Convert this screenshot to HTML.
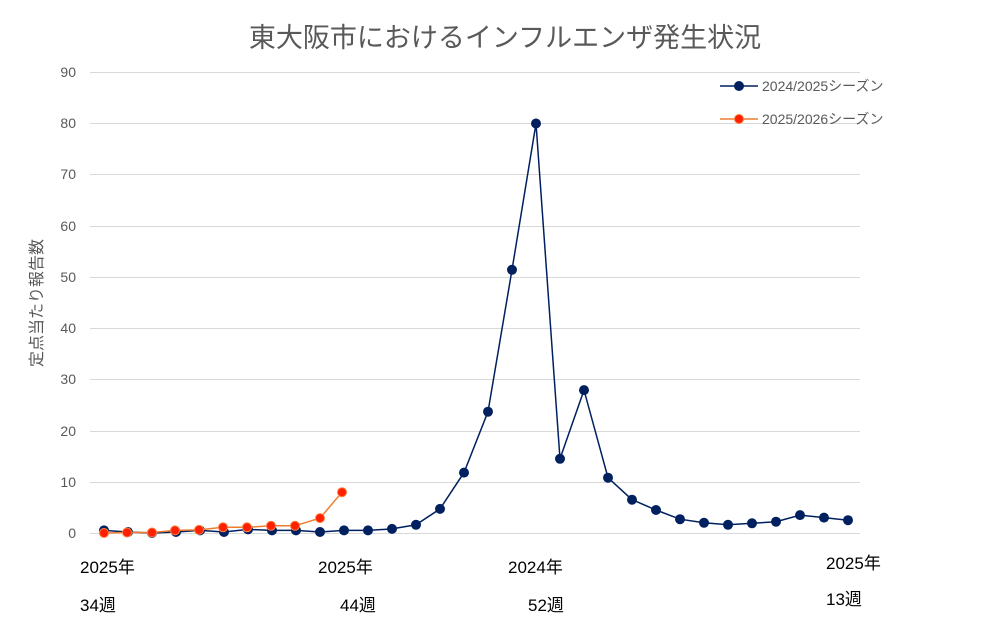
<!DOCTYPE html>
<html><head><meta charset="utf-8"><style>
html,body{margin:0;padding:0;background:#fff;}
text{font-family:"Liberation Sans","Noto Sans CJK JP",sans-serif;}
</style></head><body>
<svg width="1000" height="637" xmlns="http://www.w3.org/2000/svg">
<text x="505" y="47" text-anchor="middle" font-size="27" fill="#595959">東大阪市におけるインフルエンザ発生状況</text>
<g stroke="#d9d9d9" stroke-width="1">
<line x1="90" x2="860" y1="72.5" y2="72.5"/>
<line x1="90" x2="860" y1="123.5" y2="123.5"/>
<line x1="90" x2="860" y1="174.5" y2="174.5"/>
<line x1="90" x2="860" y1="226.5" y2="226.5"/>
<line x1="90" x2="860" y1="277.5" y2="277.5"/>
<line x1="90" x2="860" y1="328.5" y2="328.5"/>
<line x1="90" x2="860" y1="379.5" y2="379.5"/>
<line x1="90" x2="860" y1="431.5" y2="431.5"/>
<line x1="90" x2="860" y1="482.5" y2="482.5"/>
<line x1="90" x2="860" y1="533.5" y2="533.5"/>
</g>
<g font-size="14" fill="#595959" text-anchor="end">
<text x="76" y="77">90</text><text x="76" y="128">80</text><text x="76" y="179">70</text>
<text x="76" y="231">60</text><text x="76" y="282">50</text><text x="76" y="333">40</text>
<text x="76" y="384">30</text><text x="76" y="436">20</text><text x="76" y="487">10</text>
<text x="76" y="538">0</text>
</g>
<text transform="translate(42,303) rotate(-90)" text-anchor="middle" font-size="16" fill="#595959">定点当たり報告数</text>
<g font-size="17" fill="#000">
<text x="80" y="573">2025年</text><text x="80" y="611">34週</text>
<text x="318" y="573">2025年</text><text x="340" y="611">44週</text>
<text x="508" y="573">2024年</text><text x="528" y="611">52週</text>
<text x="826" y="569">2025年</text><text x="826" y="605">13週</text>
</g>
<polyline fill="none" stroke="#002060" stroke-width="1.5" points="104,530.4 128,532 152,533 176,532 200,530.4 224,532 248,529.4 272,530.4 296,530.4 320,532 344,530.4 368,530.4 392,528.9 416,524.8 440,508.9 464,472.6 488,411.7 512,269.8 536,123.5 560,458.8 584,390.1 608,477.7 632,499.7 656,510 680,519.2 704,522.8 728,524.8 752,523.3 776,521.7 800,515.1 824,517.6 848,520.2"/>
<g fill="#002060">
<circle cx="104" cy="530.4" r="5"/><circle cx="128" cy="532" r="5"/><circle cx="152" cy="533" r="5"/><circle cx="176" cy="532" r="5"/><circle cx="200" cy="530.4" r="5"/><circle cx="224" cy="532" r="5"/><circle cx="248" cy="529.4" r="5"/><circle cx="272" cy="530.4" r="5"/><circle cx="296" cy="530.4" r="5"/><circle cx="320" cy="532" r="5"/><circle cx="344" cy="530.4" r="5"/><circle cx="368" cy="530.4" r="5"/><circle cx="392" cy="528.9" r="5"/><circle cx="416" cy="524.8" r="5"/><circle cx="440" cy="508.9" r="5"/><circle cx="464" cy="472.6" r="5"/><circle cx="488" cy="411.7" r="5"/><circle cx="512" cy="269.8" r="5"/><circle cx="536" cy="123.5" r="5"/><circle cx="560" cy="458.8" r="5"/><circle cx="584" cy="390.1" r="5"/><circle cx="608" cy="477.7" r="5"/><circle cx="632" cy="499.7" r="5"/><circle cx="656" cy="510" r="5"/><circle cx="680" cy="519.2" r="5"/><circle cx="704" cy="522.8" r="5"/><circle cx="728" cy="524.8" r="5"/><circle cx="752" cy="523.3" r="5"/><circle cx="776" cy="521.7" r="5"/><circle cx="800" cy="515.1" r="5"/><circle cx="824" cy="517.6" r="5"/><circle cx="848" cy="520.2" r="5"/>
</g>
<polyline fill="none" stroke="#ed7d31" stroke-width="1.5" points="104,533 127,532.5 152,532.5 175,530.4 199,529.9 223,527.3 247,527.3 271,525.8 295,525.8 320,518.1 342,492.2"/>
<g fill="#ff2000" stroke="#ff8040" stroke-width="1">
<circle cx="104" cy="533" r="4.5"/><circle cx="127" cy="532.5" r="4.5"/><circle cx="152" cy="532.5" r="4.5"/><circle cx="175" cy="530.4" r="4.5"/><circle cx="199" cy="529.9" r="4.5"/><circle cx="223" cy="527.3" r="4.5"/><circle cx="247" cy="527.3" r="4.5"/><circle cx="271" cy="525.8" r="4.5"/><circle cx="295" cy="525.8" r="4.5"/><circle cx="320" cy="518.1" r="4.5"/><circle cx="342" cy="492.2" r="4.5"/>
</g>
<line x1="720" x2="758" y1="86" y2="86" stroke="#002060" stroke-width="1.5"/>
<circle cx="739" cy="86" r="5" fill="#002060"/>
<text x="762" y="91" font-size="14" fill="#595959">2024/2025シーズン</text>
<line x1="720" x2="758" y1="119" y2="119" stroke="#ed7d31" stroke-width="1.5"/>
<circle cx="739" cy="119" r="4.5" fill="#ff2000" stroke="#ff8040"/>
<text x="762" y="124" font-size="14" fill="#595959">2025/2026シーズン</text>
</svg>
</body></html>
